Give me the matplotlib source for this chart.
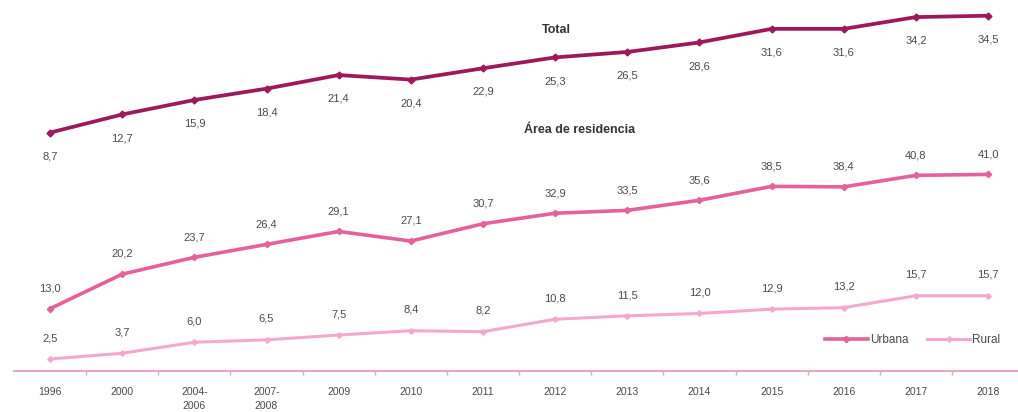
import matplotlib
matplotlib.use("Agg")
import matplotlib.pyplot as plt

categories = ["1996", "2000", "2004-\n2006", "2007-\n2008", "2009", "2010", "2011",
              "2012", "2013", "2014", "2015", "2016", "2017", "2018"]
total = [8.7, 12.7, 15.9, 18.4, 21.4, 20.4, 22.9, 25.3, 26.5, 28.6, 31.6, 31.6, 34.2, 34.5]
urbana = [13.0, 20.2, 23.7, 26.4, 29.1, 27.1, 30.7, 32.9, 33.5, 35.6, 38.5, 38.4, 40.8, 41.0]
rural = [2.5, 3.7, 6.0, 6.5, 7.5, 8.4, 8.2, 10.8, 11.5, 12.0, 12.9, 13.2, 15.7, 15.7]

plt.rcParams['font.family'] = ['Liberation Sans Narrow', 'Liberation Sans', 'DejaVu Sans']

C_TOTAL = "#9c1a5c"
C_URB = "#e4619b"
C_RUR = "#f3a9cc"
C_AXIS = "#eaa6c6"
C_TXT = "#4a4a4a"

W, H = 1018, 412
fig = plt.figure(figsize=(W / 100, H / 100), dpi=100)

x = list(range(len(categories)))
xl = (-0.5, 13.415)
left = 14 / W
width = 1 - left

def fmt(v):
    return f"{v:.1f}".replace('.', ',')

# Top panel: Total
axt = fig.add_axes([left, 1 - 172 / H, width, (172 - 4.4) / H])
axt.set_facecolor('none')
axt.plot(x, total, color=C_TOTAL, lw=2.7, marker='D', ms=3.5, zorder=3)
axt.set_xlim(*xl)
axt.set_ylim(0, 37)
axt.axis('off')
for xi, v in zip(x, total):
    axt.annotate(fmt(v), (xi, v), xytext=(0, -17), textcoords='offset points',
                 ha='center', va='center', fontsize=8, color=C_TXT)
fig.text(556 / W, 1 - 30 / H, "Total", ha='center', va='center', fontsize=9,
         fontweight='bold', color='#333333')

# Bottom panel: Área de residencia
axb = fig.add_axes([left, 1 - 371 / H, width, 211 / H])
axb.set_facecolor('none')
axb.plot(x, urbana, color=C_URB, lw=2.6, marker='D', ms=3.2, label='Urbana', zorder=3)
axb.plot(x, rural, color=C_RUR, lw=2.2, marker='D', ms=2.8, label='Rural', zorder=3)
axb.set_xlim(*xl)
axb.set_ylim(0, 44)
for s in ['top', 'right', 'left']:
    axb.spines[s].set_visible(False)
axb.spines['bottom'].set_color(C_AXIS)
axb.spines['bottom'].set_linewidth(1.5)
axb.set_yticks([])
axb.set_xticks(x)
axb.set_xticklabels(categories, fontsize=7.5, color=C_TXT, linespacing=1.55, va='top')
axb.tick_params(axis='x', which='major', length=0, pad=11.5)
axb.set_xticks([i + 0.5 for i in range(13)], minor=True)
axb.tick_params(axis='x', which='minor', length=3, color=C_AXIS, width=1)
for xi, v in zip(x, urbana):
    axb.annotate(fmt(v), (xi, v), xytext=(0, 14.5), textcoords='offset points',
                 ha='center', va='center', fontsize=8, color=C_TXT)
for xi, v in zip(x, rural):
    axb.annotate(fmt(v), (xi, v), xytext=(0, 15), textcoords='offset points',
                 ha='center', va='center', fontsize=8, color=C_TXT)
fig.text(580 / W, 1 - 130 / H, "Área de residencia", ha='center', va='center',
         fontsize=9, fontweight='bold', color='#333333')

leg = axb.legend(loc='center right', bbox_to_anchor=((1000 - 14) / (W - 14) + 0.011, (371 - 340) / 211),
                 bbox_transform=axb.transAxes, ncol=2, frameon=False, fontsize=8.5,
                 handlelength=3.6, columnspacing=1.6, handletextpad=0.2)
for t in leg.get_texts():
    t.set_color(C_TXT)

fig.savefig("out.png", dpi=100)
